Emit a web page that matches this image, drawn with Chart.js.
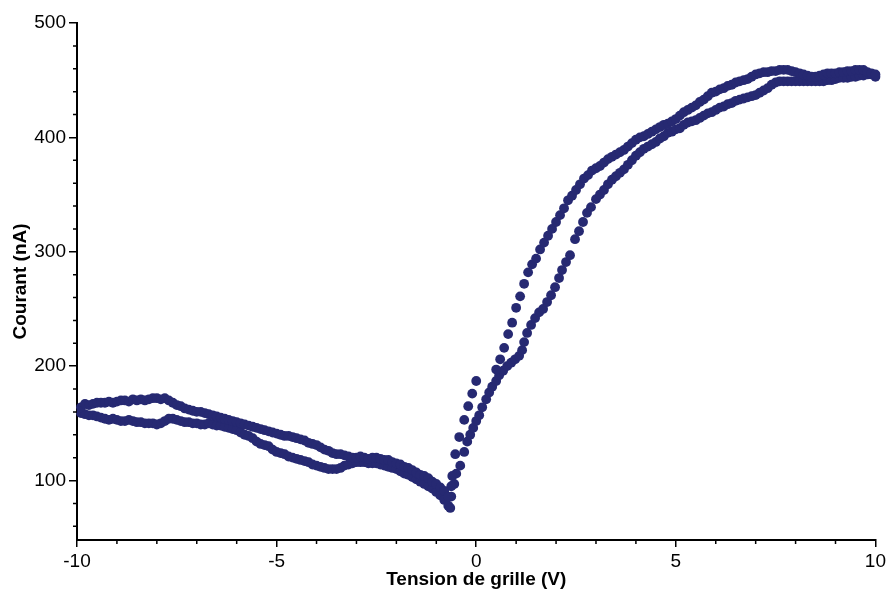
<!DOCTYPE html>
<html lang="fr">
<head>
<meta charset="UTF-8">
<title>Courant en fonction de la tension de grille</title>
<script src="https://cdn.jsdelivr.net/npm/chart.js"></script>
<style>
  html, body { margin: 0; padding: 0; background: #fff; }
</style>
</head>
<body>
<canvas id="courbe" width="889" height="591"></canvas>
<script>
// Partie gauche (V < -0.6) : branche haute et branche basse
const vGaucheHaut = [-9.9,-9.8,-9.7,-9.6,-9.5,-9.4,-9.3,-9.2,-9.1,-9.0,-8.9,-8.8,-8.7,-8.6,-8.5,-8.4,-8.3,-8.2,-8.1,-8.0,
    -7.9,-7.8,-7.7,-7.6,-7.5,-7.4,-7.3,-7.2,-7.1,-7.0,-6.9,-6.8,-6.7,-6.6,-6.5,-6.4,-6.3,-6.2,-6.1,-6.0,
    -5.9,-5.8,-5.7,-5.6,-5.5,-5.4,-5.3,-5.2,-5.1,-5.0,-4.9,-4.8,-4.7,-4.6,-4.5,-4.4,-4.3,-4.2,-4.1,-4.0,
    -3.9,-3.8,-3.7,-3.6,-3.5,-3.4,-3.3,-3.2,-3.1,-3.0,-2.9,-2.8,-2.7,-2.6,-2.5,-2.4,-2.3,-2.2,-2.1,-2.0,
    -1.9,-1.8,-1.7,-1.6,-1.5,-1.4,-1.3,-1.2,-1.1,-1.0,-0.9,-0.8,-0.7];
const iGaucheHaut = [164,167,166,167,168,168,168,169,168,169,170,170,169,171,170,171,170,171,172,172,
    171,172,170,168,166,165,163,162,161,160,160,159,158,157,156,155,154,153,152,151,
    150,149,148,147,146,145,144,143,142,141,140,139,139,138,137,136,135,133,132,131,
    129,127,126,124,123,123,122,121,120,120,121,120,119,120,120,119,118,118,116,115,
    114,112,111,109,107,105,104,102,99,97,94,91,86];

const vGaucheBas = [-9.9,-9.8,-9.7,-9.6,-9.5,-9.4,-9.3,-9.2,-9.1,-9.0,-8.9,-8.8,-8.7,-8.6,-8.5,-8.4,-8.3,-8.2,-8.1,-8.0,
    -7.9,-7.8,-7.7,-7.6,-7.5,-7.4,-7.3,-7.2,-7.1,-7.0,-6.9,-6.8,-6.7,-6.6,-6.5,-6.4,-6.3,-6.2,-6.1,-6.0,
    -5.9,-5.8,-5.7,-5.6,-5.5,-5.4,-5.3,-5.2,-5.1,-5.0,-4.9,-4.8,-4.7,-4.6,-4.5,-4.4,-4.3,-4.2,-4.1,-4.0,
    -3.9,-3.8,-3.7,-3.6,-3.5,-3.4,-3.3,-3.2,-3.1,-3.0,-2.9,-2.8,-2.7,-2.6,-2.5,-2.4,-2.3,-2.2,-2.1,-2.0,
    -1.9,-1.8,-1.7,-1.6,-1.5,-1.4,-1.3,-1.2,-1.1,-1.0,-0.9,-0.8,-0.7,-0.65];
const iGaucheBas = [159,158,157,157,156,155,154,153,154,153,152,152,153,152,151,151,150,150,150,149,
    150,152,154,154,153,152,151,151,150,150,149,149,150,149,148,148,147,146,145,144,
    142,140,139,137,134,132,131,130,127,125,124,123,121,120,119,118,117,116,114,113,
    112,111,110,110,110,111,113,114,115,116,116,116,115,115,115,114,113,112,111,110,
    108,106,105,103,101,99,97,95,93,90,87,83,78,76];

// Partie droite : branche de gauche (la plus raide) et branche de droite
const vDroiteHaut = [-0.625,-0.6,-0.525,-0.425,-0.3,-0.2,-0.1,0.0,0.5,0.6,0.7,0.8,0.9,1.0,1.1,1.2,1.3,1.4,1.5,1.6,
    1.7,1.8,1.9,2.0,2.1,2.2,2.3,2.4,2.5,2.6,2.7,2.8,2.9,3.0,3.1,3.2,3.3,3.4,3.5,3.6,
    3.7,3.8,3.9,4.0,4.1,4.2,4.3,4.4,4.5,4.6,4.7,4.8,4.9,5.0,5.1,5.2,5.3,5.4,5.5,5.6,
    5.7,5.8,5.9,6.0,6.1,6.2,6.3,6.4,6.5,6.6,6.7,6.8,6.9,7.0,7.1,7.2,7.3,7.4,7.5,7.6,
    7.7,7.8,7.9,8.0,8.1,8.2,8.3,8.4,8.5,8.6,8.7,8.8,8.9,9.0,9.1,9.2,9.3,9.4,9.5,9.6,
    9.7,9.8,9.9,10.0];
const iDroiteHaut = [95,104,123,138,153,165,176,187,197,206,216,228,238,251,261,272,282,289,294,302,
    308,314,320,326,332,338,345,349,354,359,364,367,371,373,375,378,381,383,385,387,
    389,392,395,398,400,401,403,405,407,409,411,412,414,416,419,422,424,426,428,431,
    433,436,439,440,442,443,445,446,448,449,450,451,453,455,456,457,457,458,458,459,
    459,459,458,457,456,455,454,453,453,454,455,456,456,456,457,457,458,458,459,459,
    459,457,456,455];

const vDroiteBas = [-0.625,-0.55,-0.5,-0.4,-0.3,-0.225,-0.15,-0.075,0.0,0.075,0.15,0.25,0.325,0.4,0.5,0.575,0.675,0.775,0.875,0.975,
    1.075,1.15,1.2,1.275,1.375,1.475,1.575,1.675,1.775,1.875,1.975,2.075,2.15,2.25,2.35,2.475,2.575,2.675,2.775,2.875,
    3.0,3.1,3.2,3.3,3.4,3.5,3.6,3.7,3.8,3.9,4.0,4.1,4.2,4.3,4.4,4.5,4.6,4.7,4.8,4.9,
    5.0,5.1,5.2,5.3,5.4,5.5,5.6,5.7,5.8,5.9,6.0,6.1,6.2,6.3,6.4,6.5,6.6,6.7,6.8,6.9,
    7.0,7.1,7.2,7.3,7.4,7.5,7.6,7.7,7.8,7.9,8.0,8.1,8.2,8.3,8.4,8.5,8.6,8.7,8.8,8.9,
    9.0,9.1,9.2,9.3,9.4,9.5,9.6,9.7,9.8,9.9,10.0];
const iDroiteBas = [86,97,106,113,125,134,140,146,152,157,164,171,177,182,187,192,196,200,203,206,
    209,214,221,229,236,242,247,250,256,262,269,277,284,291,297,311,318,326,334,339,
    346,350,354,359,363,366,369,372,376,380,384,387,390,392,394,396,399,401,404,405,
    407,408,411,413,414,415,417,419,421,422,424,426,427,429,430,432,433,434,435,436,
    437,439,441,443,446,448,449,449,449,449,449,449,449,449,449,449,449,449,450,450,
    451,452,452,452,453,453,454,454,455,455,453];

// Graduations
const xTicks = [-10, -5, 0, 5, 10];
const xMinor = [-9,-8,-7,-6,-4,-3,-2,-1,1,2,3,4,6,7,8,9];
const yTicks = [100, 200, 300, 400, 500];
const yMinor = [60,80,120,140,160,180,220,240,260,280,320,340,360,380,420,440,460,480];

const couleur = '#262972';

function points(vs, is) {
    return vs.map((v, k) => ({ x: v, y: is[k] }));
}

// petites graduations (pas gérées par Chart.js)
const petitesGraduations = {
    id: 'petitesGraduations',
    afterDraw(chart) {
        const ctx = chart.ctx;
        const sx = chart.scales.x, sy = chart.scales.y;
        ctx.save();
        ctx.strokeStyle = '#000';
        ctx.lineWidth = 1.5;
        ctx.beginPath();
        xMinor.forEach(v => {
            const px = sx.getPixelForValue(v);
            ctx.moveTo(px, sx.top);
            ctx.lineTo(px, sx.top + 4);
        });
        yMinor.forEach(v => {
            const py = sy.getPixelForValue(v);
            ctx.moveTo(sy.right, py);
            ctx.lineTo(sy.right - 4, py);
        });
        ctx.stroke();
        ctx.restore();
    }
};

const jeu = (label, data) => ({
    label: label,
    data: data,
    showLine: false,
    pointRadius: 4.9,
    pointBorderWidth: 0,
    pointBackgroundColor: couleur,
    pointBorderColor: couleur,
    clip: false
});

const police = '"Liberation Sans", Arial, sans-serif';

new Chart(document.getElementById('courbe').getContext('2d'), {
    type: 'scatter',
    data: {
        datasets: [
            jeu('gauche haut', points(vGaucheHaut, iGaucheHaut)),
            jeu('gauche bas', points(vGaucheBas, iGaucheBas)),
            jeu('droite haut', points(vDroiteHaut, iDroiteHaut)),
            jeu('droite bas', points(vDroiteBas, iDroiteBas))
        ]
    },
    options: {
        responsive: false,
        animation: false,
        layout: { padding: { top: 23, right: 12, left: 0, bottom: 0 } },
        plugins: {
            legend: { display: false },
            tooltip: { enabled: false }
        },
        scales: {
            x: {
                type: 'linear',
                min: -10,
                max: 10,
                afterBuildTicks: s => { s.ticks = xTicks.map(v => ({ value: v })); },
                afterFit: s => { s.height = 51; },
                grid: { drawOnChartArea: false, color: '#000', lineWidth: 1.5, tickLength: 7 },
                border: { display: true, color: '#000', width: 2 },
                ticks: {
                    color: '#000',
                    padding: 3,
                    maxRotation: 0,
                    font: { family: police, size: 19 },
                    callback: v => String(v)
                },
                title: {
                    display: true,
                    text: 'Tension de grille (V)',
                    color: '#000',
                    padding: { top: 0, bottom: 0 },
                    font: { family: police, size: 19, weight: 'bold' }
                }
            },
            y: {
                type: 'linear',
                min: 48,
                max: 500,
                afterBuildTicks: s => { s.ticks = yTicks.map(v => ({ value: v })); },
                afterFit: s => { s.width = 77; },
                grid: { drawOnChartArea: false, color: '#000', lineWidth: 1.5, tickLength: 8 },
                border: { display: true, color: '#000', width: 2 },
                ticks: {
                    color: '#000',
                    padding: 3,
                    font: { family: police, size: 19 },
                    callback: v => String(v)
                },
                title: {
                    display: true,
                    text: 'Courant (nA)',
                    color: '#000',
                    padding: { top: 9, bottom: 0 },
                    font: { family: police, size: 19, weight: 'bold' }
                }
            }
        }
    },
    plugins: [petitesGraduations]
});
</script>
</body>
</html>
